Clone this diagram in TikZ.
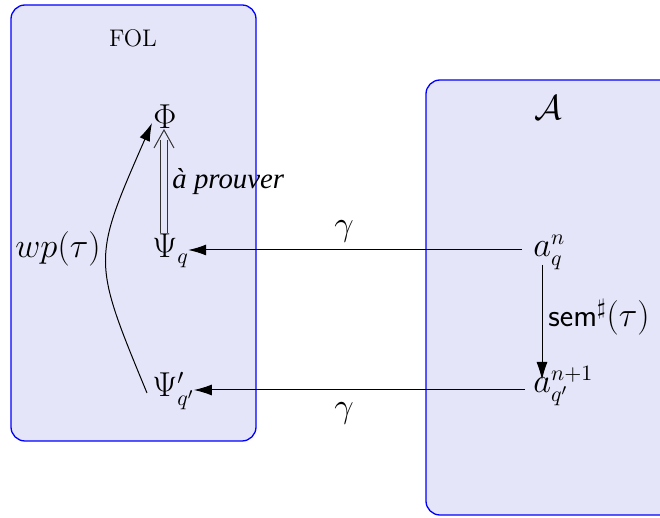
\documentclass[tikz,border=0pt]{standalone}
\usepackage{fontspec}
\newfontfamily\timesfont{Liberation Serif}
\usetikzlibrary{arrows.meta,calc}
\definecolor{boxfill}{RGB}{229,229,250}
\tikzset{
  region/.style={draw=blue, line width=0.65pt, fill=boxfill, rounded corners=7pt},
  lbl/.style={inner sep=0pt, font=\fontsize{16}{19}\selectfont},
  arr/.style={line width=0.5pt, -{Latex[length=9pt,width=5.5pt]}},
  dblline/.style={line width=0.5pt, draw=black!80},
}
\begin{document}
\begin{tikzpicture}[x=0.5pt,y=-0.5pt]
\clip (0,0) rectangle (660,518);
\useasboundingbox (0,0) rectangle (660,518);
% regions
\draw[region] (11,5) rectangle (256,441);
\draw[region] (426,80) rectangle (700,515);
% titles
\node[inner sep=0pt, font=\large, anchor=base] (fol) at (133,47) {FOL};
\node[lbl, anchor=base] (calA) at (548,120) {$\mathcal{A}$};
% nodes
\node[lbl, anchor=base west] (phi) at (153,129) {$\Phi$};
\node[lbl, anchor=base west] (psiq) at (152,258) {$\Psi_q$};
\node[lbl, anchor=base west] (psip) at (152,397) {$\Psi'_{q'}$};
\node[lbl, anchor=base west] (aqn) at (533,257) {$a_q^n$};
\node[lbl, anchor=base west] (aqn1) at (533,393) {$a_{q'}^{n+1}$};
% labels
\node[lbl, anchor=base] (wp) at (58,258) {$wp(\tau)$};
\node[inner sep=0pt, font=\Large\timesfont\itshape, anchor=base west] (prove) at (172,189) {à prouver};
\node[lbl, anchor=base west] (sem) at (548,327) {$\textsf{sem}^\sharp(\tau)$};
\node[lbl, anchor=base] (g1) at (344,236) {$\gamma$};
\node[lbl, anchor=base] (g2) at (344,418) {$\gamma$};
% gamma arrows
\draw[arr] ($(aqn.base west)+(-11,-7)$) -- ($(psiq.base east)+(-1,-8)$);
\draw[arr] ($(aqn1.base west)+(-8,-3)$) -- ($(psip.base east)+(-1,-7)$);
% sem arrow
\draw[arr] ($(aqn.base west)+(9,8)$) -- ($(aqn1.base west)+(9,-13)$);
% wp curve
\draw[arr] ($(psip.base west)+(-5,-4)$) .. controls (92,260) and (92,260) .. ($(phi.base west)+(-1,-6)$);
% double implication
\draw[dblline] ($(psiq.base west)+(8.7,-25)$) -- ($(phi.base west)+(7.7,11)$);
\draw[dblline] ($(psiq.base west)+(15,-25)$) -- ($(phi.base west)+(14,11)$);
\draw[dblline] ($(phi.base west)+(1,19)$) -- ($(phi.base west)+(11,1)$) -- ($(phi.base west)+(21,19)$);
\end{tikzpicture}
\end{document}
